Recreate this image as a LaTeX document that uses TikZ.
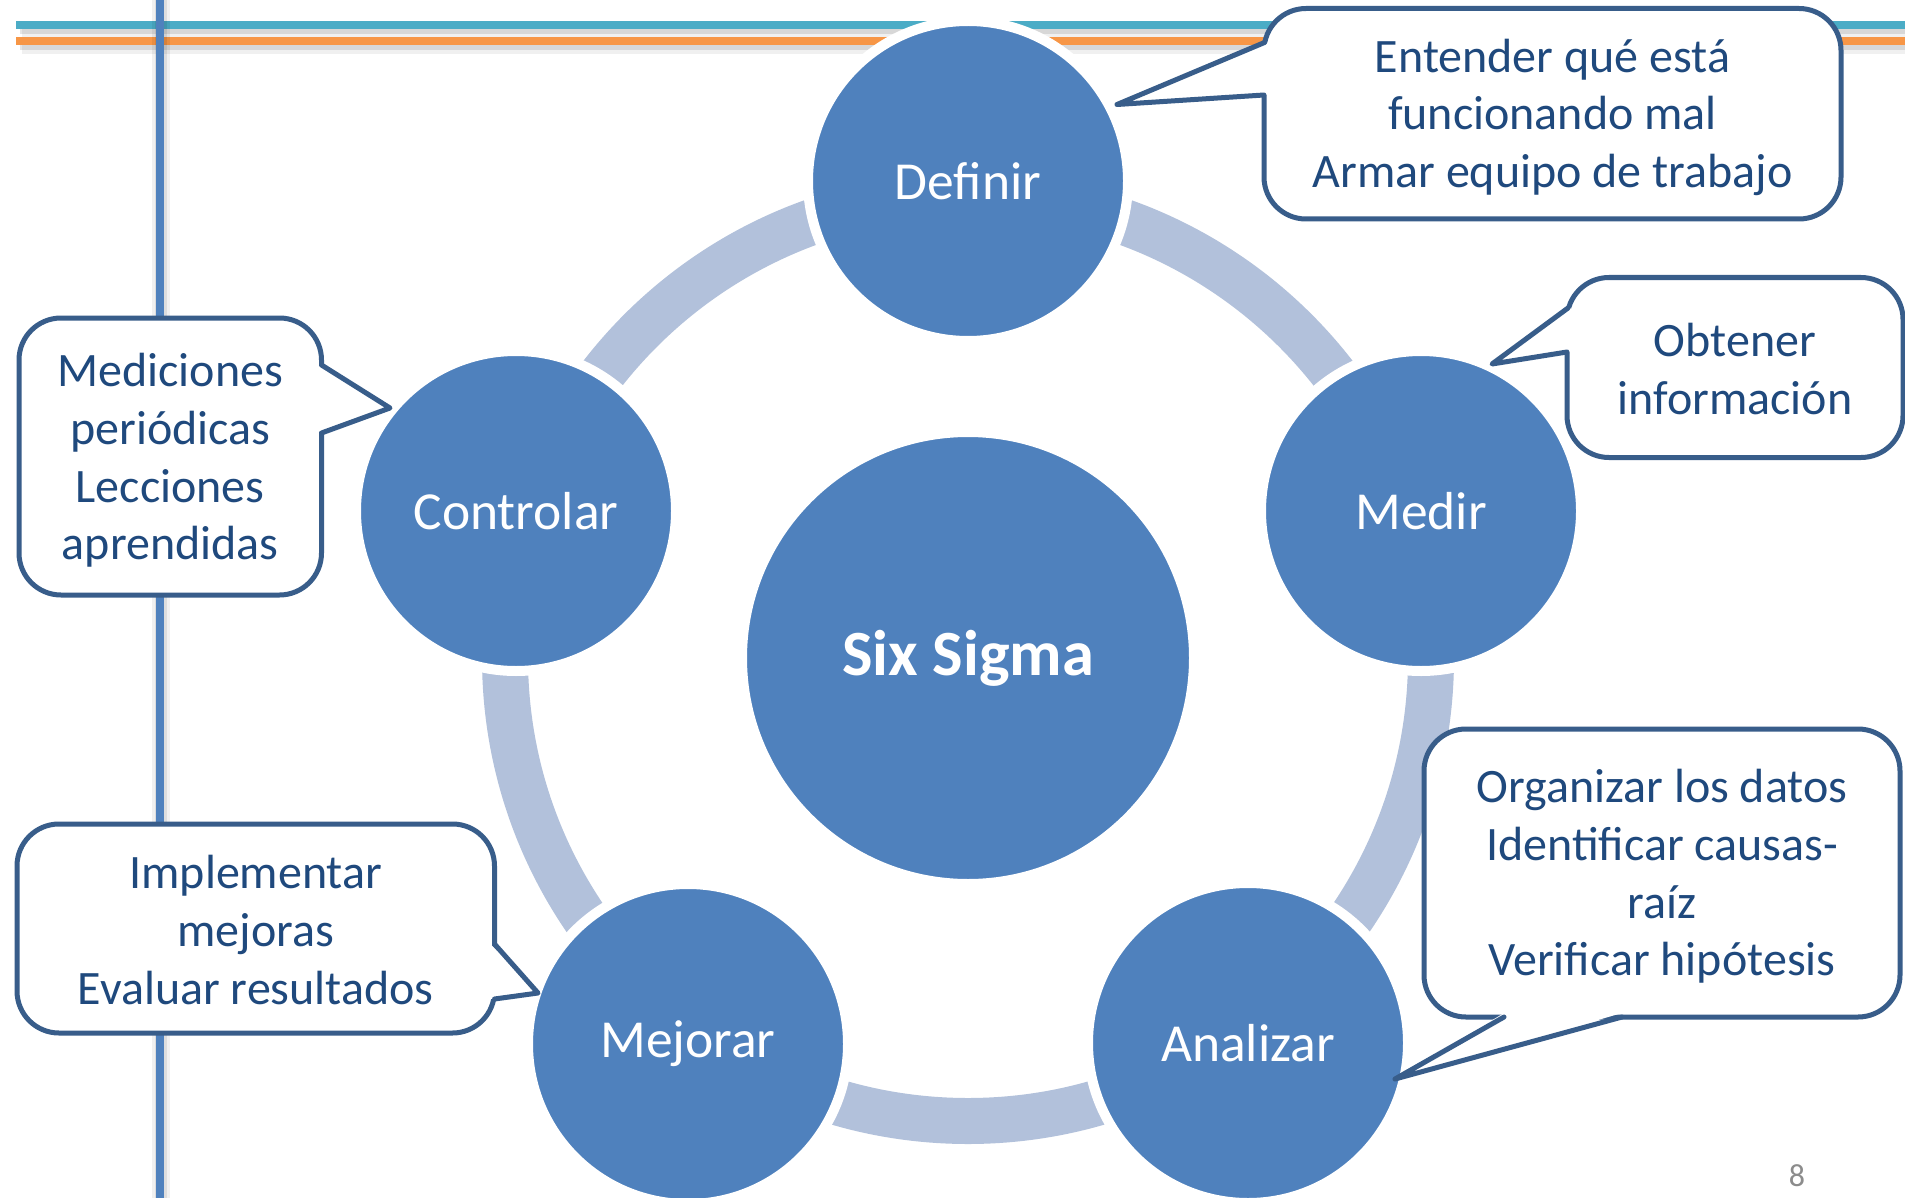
\documentclass[tikz,border=0pt]{standalone}
\usepackage{fontspec}
\setmainfont{Carlito}
\definecolor{ringc}{HTML}{B2C1DB}
\definecolor{circc}{HTML}{4F81BD}
\definecolor{tealc}{HTML}{4BACC6}
\definecolor{orangec}{HTML}{F79646}
\definecolor{vlinec}{HTML}{4F81BD}
\definecolor{cborder}{HTML}{385D8A}
\definecolor{ctext}{HTML}{1F497D}
\definecolor{pagec}{HTML}{8C8C8C}
\begin{document}
\begin{tikzpicture}[x=1pt,y=-1pt,
  phase/.style={circle, fill=circc, draw=white, line width=10pt, minimum size=320pt, inner sep=0pt, text=white, font=\fontsize{53.5}{64}\selectfont},
  core/.style={circle, fill=circc, draw=white, line width=4pt, minimum size=446pt, inner sep=0pt, text=white, font=\bfseries\fontsize{64.5}{77}\selectfont},
  cbox/.style={rectangle, rounded corners=42pt, draw=cborder, fill=white, line width=5pt, inner sep=0pt},
  ctxt/.style={align=center, text=ctext, font=\fontsize{48}{57.7}\selectfont, inner sep=0pt},
  ptrfill/.style={fill=white},
  ptr/.style={draw=cborder, line width=5pt, line join=round, line cap=round},
]
\useasboundingbox (0,0) rectangle (1905,1198);
\fill[white] (0,0) rectangle (1905,1198);

% top lines with soft shadows
\foreach \yy/\cc in {25/tealc, 41/orangec} {
  \draw[black, opacity=0.06, line width=14pt] (22,{\yy+6}) -- (1905,{\yy+6});
  \draw[black, opacity=0.10, line width=8pt] (20,{\yy+5}) -- (1905,{\yy+5});
  \draw[\cc, line width=8pt] (16,\yy) -- (1905,\yy);
}
% vertical line with shadow
\draw[black, opacity=0.06, line width=18pt] (161,0) -- (161,1198);
\draw[black, opacity=0.08, line width=12pt] (161,0) -- (161,1198);
\draw[vlinec, line width=8pt] (160,0) -- (160,1198);

% ring
\draw[ringc, line width=46pt] (968,658) circle[radius=463pt];

% circles
\node[core] (six) at (968,658) {Six Sigma};
\node[phase] (def) at (968,181) {Definir};
\node[phase] (med) at (1421,511) {Medir};
\node[phase] (ana) at (1248,1043) {Analizar};
\node[phase] (mej) at (688,1044) {Mejorar};
\node[phase] (con) at (516,511) {Controlar};

% callout 1 (Definir)
\node[cbox, minimum width=577pt, minimum height=210.5pt] (c1) at (1552.5,113.75) {};
\node[ctxt] (c1t) at ([yshift=-3.5pt]c1.center)
  {Entender qué está\\funcionando mal\\Armar equipo de trabajo};
\coordinate (t1) at (1117,104.5);
\fill[ptrfill] (t1) -- (1268,42.5) -- (1268,95) -- cycle;
\draw[ptr] (1264.5,42.5) -- (t1) -- (1264,95);

% callout 2 (Medir)
\node[cbox, minimum width=336pt, minimum height=180pt] (c2) at (1735,367.5) {};
\node[ctxt] (c2t) at ([yshift=-1.5pt]c2.center) {Obtener\\información};
\coordinate (t2) at (1492,364);
\fill[ptrfill] (t2) -- (1571,308) -- (1571,352) -- cycle;
\draw[ptr] (1568,308) -- (t2) -- (1567,352);

% callout 3 (Controlar)
\node[cbox, minimum width=302.5pt, minimum height=277pt] (c3) at (170.25,456.5) {};
\node[ctxt] (c3t) at ([yshift=-4pt]c3.center)
  {Mediciones\\periódicas\\Lecciones\\aprendidas};
\coordinate (t3) at (390,408);
\fill[ptrfill] (t3) -- (317.5,365) -- (317.5,433) -- cycle;
\draw[ptr] (321.5,365) -- (t3) -- (321.5,433);

% callout 4 (Mejorar)
\node[cbox, minimum width=477.5pt, minimum height=209pt] (c4) at (255.75,928.5) {};
\node[ctxt] (c4t) at ([yshift=-1.5pt]c4.center)
  {Implementar\\mejoras\\Evaluar resultados};
\coordinate (t4) at (538,993);
\fill[ptrfill] (t4) -- (490.5,944) -- (490.5,999) -- cycle;
\draw[ptr] (494.5,944) -- (t4) -- (494.5,999);

% callout 5 (Analizar)
\node[cbox, minimum width=476pt, minimum height=288pt] (c5) at (1662,873) {};
\node[ctxt] (c5t) at ([yshift=-3.5pt]c5.center)
  {Organizar los datos\\Identificar causas-\\raíz\\Verificar hipótesis};
\coordinate (t5) at (1395,1079);
\fill[ptrfill] (t5) -- (1504,1013) -- (1622,1013) -- cycle;
\draw[ptr] (1504,1017) -- (t5) -- (1622,1017);

% page number
\node[text=pagec, font=\fontsize{32}{38}\selectfont] (pg) at (1797,1176) {8};
\end{tikzpicture}
\end{document}
